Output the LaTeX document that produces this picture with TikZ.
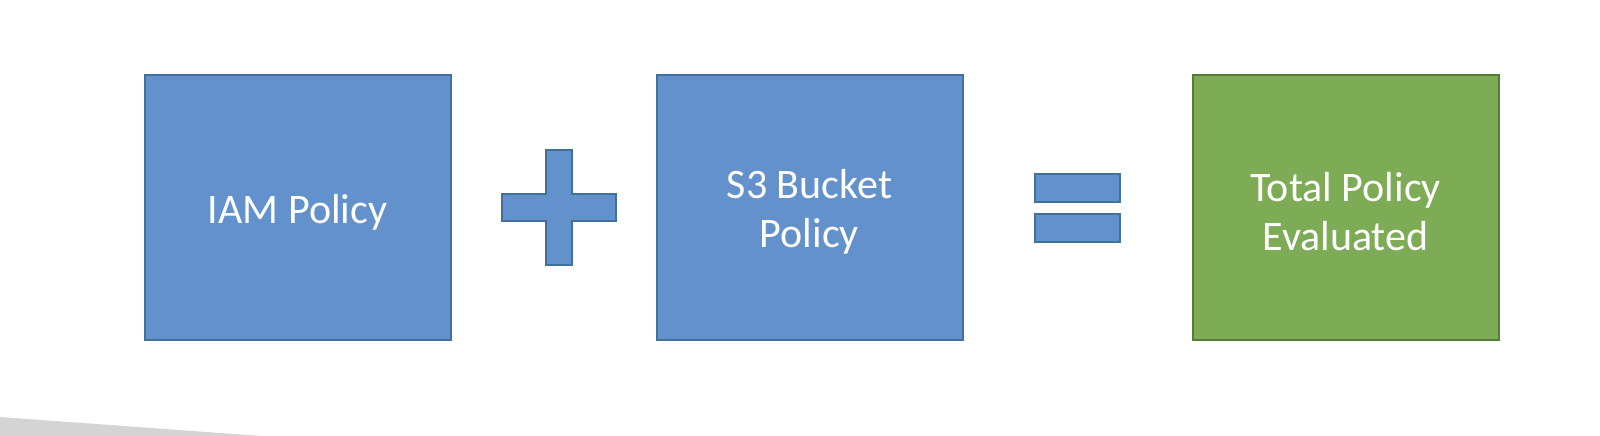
\documentclass[tikz,border=0pt]{standalone}
\usepackage{fontspec}
\setmainfont{Carlito}
\definecolor{boxblue}{HTML}{6391CB}
\definecolor{lineblue}{HTML}{41709C}
\definecolor{boxgreen}{HTML}{7EAB55}
\definecolor{linegreen}{HTML}{527F33}
\definecolor{shadegray}{HTML}{D4D4D4}
\tikzset{policy/.style={draw=lineblue, fill=boxblue, line width=2pt,
   minimum width=306pt, minimum height=265pt, inner sep=0pt},
 total/.style={policy, draw=linegreen, fill=boxgreen},
 caption/.style={text=white, align=center, inner sep=0pt, yshift=-5pt,
   font=\fontsize{42}{49}\selectfont},
 sign/.style={draw=lineblue, fill=boxblue, line width=2pt},
 }
\begin{document}
\begin{tikzpicture}[x=1pt, y=-1pt]
        \useasboundingbox (0,0) rectangle (1600,436);
        \fill[shadegray] (0,417) -- (262,436) -- (0,436) -- cycle;
        \node[policy] (iam) at (297.5, 207) {};
        \node[policy] (bucket) at (809.5, 207) {};
        \node[total] (result) at (1345.5, 207) {};
        \node[caption] (iamtext) at (iam.center) {IAM Policy};
        \node[caption] (buckettext) at (bucket.center) {S3 Bucket\\Policy};
        \node[caption] (resulttext) at (result.center) {Total Policy\\Evaluated};
        % plus
        \draw[sign] (546,150) -- (572,150) -- (572,194) -- (616,194) -- (616,221)
            -- (572,221) -- (572,265) -- (546,265) -- (546,221) -- (502,221)
            -- (502,194) -- (546,194) -- cycle;
        % equals
        \draw[sign] (1035,173.5) rectangle (1120,201.5);
        \draw[sign] (1035,214) rectangle (1120,242);
    \end{tikzpicture}
\end{document}
